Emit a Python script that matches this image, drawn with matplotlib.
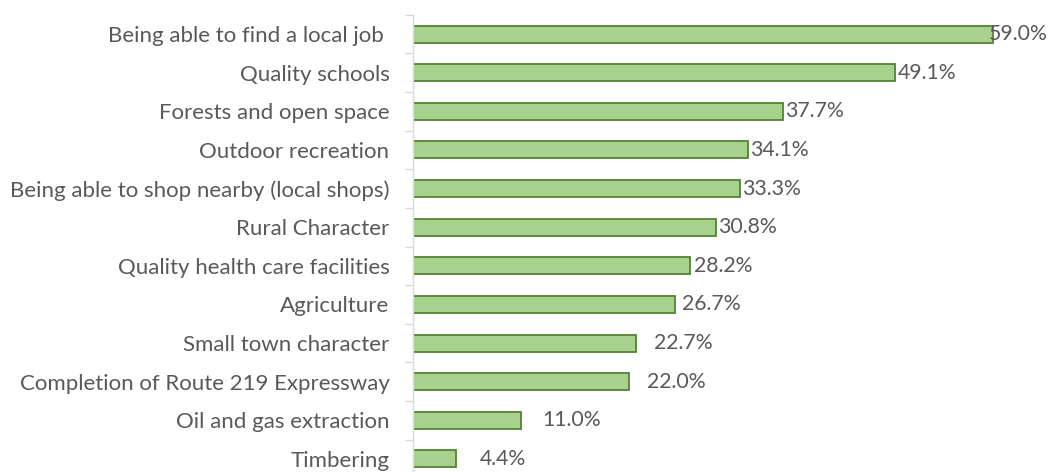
import matplotlib
matplotlib.use("Agg")
import matplotlib.pyplot as plt
import numpy as np

categories = [
    "Being able to find a local job ",
    "Quality schools",
    "Forests and open space",
    "Outdoor recreation",
    "Being able to shop nearby (local shops)",
    "Rural Character",
    "Quality health care facilities",
    "Agriculture",
    "Small town character",
    "Completion of Route 219 Expressway",
    "Oil and gas extraction",
    "Timbering",
]
values = [59.0, 49.1, 37.7, 34.1, 33.3, 30.8, 28.2, 26.7, 22.7, 22.0, 11.0, 4.4]
value_labels = ["59.0%", "49.1%", "37.7%", "34.1%", "33.3%", "30.8%",
                "28.2%", "26.7%", "22.7%", "22.0%", "11.0%", "4.4%"]
# label offsets from bar end (points), as placed in the original
label_offsets = [-2.5, 1.5, 1.5, 1.5, 1.5, 1.5, 2.5, 5, 13, 13, 15, 17]

plt.rcParams['font.family'] = ['Lato', 'DejaVu Sans']
text_color = "#595959"
fs = 16

fig = plt.figure(figsize=(10.5, 4.72), dpi=100)
ax = fig.add_axes([413/1050, 1 - 478.3/472, (1040-413)/1050, (478.3-14.7)/472])

n = len(categories)
y = np.arange(n)
ax.barh(y, values, height=0.44, color="#a9d18e", edgecolor="#548235", linewidth=1.3)
ax.set_xlim(0, (1040-414)/9.81)
ax.set_ylim(n - 0.5, -0.5)

for yi, v, lab, off in zip(y, values, value_labels, label_offsets):
    ax.annotate(lab, (v, yi), xytext=(off, 0), textcoords="offset points",
                va="center", ha="left", fontsize=15.3, color=text_color)

ax.set_yticks(y)
ax.set_yticklabels(categories, fontsize=fs, color=text_color)
ax.tick_params(axis='y', which='major', length=0, pad=17)
ax.set_yticks(np.arange(n + 1) - 0.5, minor=True)
ax.tick_params(axis='y', which='minor', length=6, color="#d9d9d9", width=1)
ax.set_xticks([])
for s in ["top", "right", "bottom"]:
    ax.spines[s].set_visible(False)
ax.spines["left"].set_color("#d9d9d9")
ax.spines["left"].set_linewidth(1)

fig.savefig("out.png", dpi=100)
